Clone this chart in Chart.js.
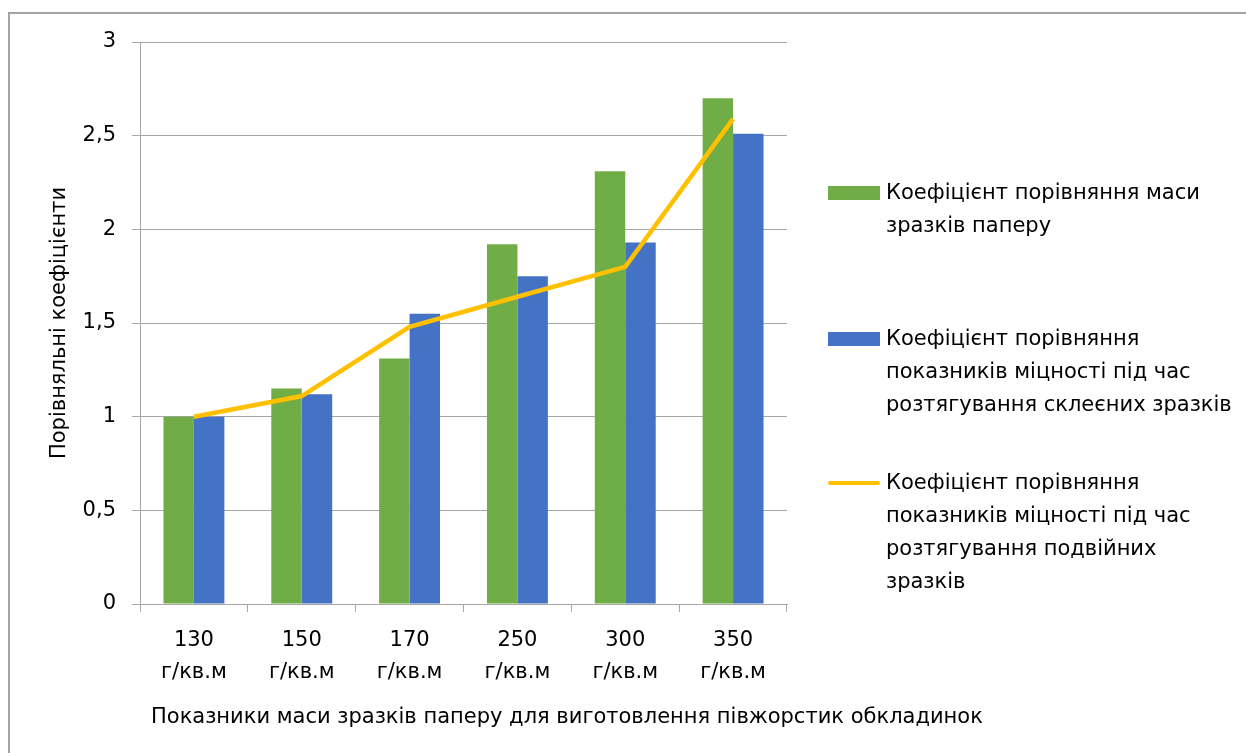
<!DOCTYPE html>
<html lang="uk">
<head>
<meta charset="utf-8">
<title>Порівняльні коефіцієнти</title>
<script src="https://cdn.jsdelivr.net/npm/chart.js@4/dist/chart.umd.min.js"></script>
<style>
  html, body { margin: 0; padding: 0; background: #fff; overflow: hidden; }
  #wrap { position: relative; width: 1246px; height: 753px; overflow: hidden;
          font-family: "DejaVu Sans", "Noto Sans", sans-serif; color: #000; }
  #frame { position: absolute; left: 8px; top: 12px; width: 1238px; height: 741px;
           border-top: 2px solid #a3a3a3; border-left: 2px solid #a3a3a3; box-sizing: border-box; }
  canvas { position: absolute; left: 0; top: 0; }
  .leg-item { position: absolute; left: 828px; }
  .leg-swatch { position: absolute; left: 0; width: 52px; }
  .leg-text { position: absolute; left: 58px; white-space: nowrap; font-size: 21px; line-height: 33px; }
  #xtitle { position: absolute; left: 151px; top: 702px; font-size: 21px; line-height: 28px; white-space: nowrap; }
</style>
</head>
<body>
<div id="wrap">
  <div id="frame"></div>
  <canvas id="chart" width="1246" height="753"></canvas>
  <div id="legend"></div>
  <div id="xtitle"></div>
</div>
<script>
// Paper mass categories (g per sq. m)
const massValues = ['130', '150', '170', '250', '300', '350'];
const massUnit = 'г/кв.м';

// Mass comparison coefficient of the paper samples
const massRatio = [1.0, 1.15, 1.31, 1.92, 2.31, 2.70];
// Tensile strength comparison coefficient, glued samples
const gluedRatio = [1.0, 1.12, 1.55, 1.75, 1.93, 2.51];
// Tensile strength comparison coefficient, double samples
const doubleRatio = [1.0, 1.11, 1.48, 1.64, 1.80, 2.59];

// Legend captions, already broken into lines
const massLabel = ['Коефіцієнт порівняння маси', 'зразків паперу'];
const gluedLabel = ['Коефіцієнт порівняння', 'показників міцності під час', 'розтягування склеєних зразків'];
const doubleLabel = ['Коефіцієнт порівняння', 'показників міцності під час', 'розтягування подвійних', 'зразків'];

const yTitle = 'Порівняльні коефіцієнти';
const xTitle = 'Показники маси зразків паперу для виготовлення півжорстик обкладинок';

const categories = massValues.map(v => [v, massUnit]);

const GREEN = '#70AD47', BLUE = '#4472C4', GOLD = '#FFC000', GRID = '#a6a6a6';
const FONT = '"DejaVu Sans", "Noto Sans", sans-serif';

const chart = new Chart(document.getElementById('chart'), {
  type: 'bar',
  data: {
    labels: categories,
    datasets: [
      { type: 'line', label: doubleLabel.join(' '), lines: doubleLabel, data: doubleRatio,
        borderColor: GOLD, backgroundColor: GOLD, borderWidth: 4.5, pointRadius: 0,
        tension: 0, order: 0, legendOrder: 2 },
      { label: massLabel.join(' '), lines: massLabel, data: massRatio,
        backgroundColor: GREEN, borderWidth: 0, order: 1, legendOrder: 0 },
      { label: gluedLabel.join(' '), lines: gluedLabel, data: gluedRatio,
        backgroundColor: BLUE, borderWidth: 0, order: 1, legendOrder: 1 }
    ]
  },
  options: {
    responsive: false,
    animation: false,
    datasets: { bar: { barPercentage: 1.0, categoryPercentage: 0.565 } },
    layout: { padding: { left: 0, top: 42, right: 459, bottom: 0 } },
    plugins: { legend: { display: false }, tooltip: { enabled: false } },
    scales: {
      x: {
        afterFit: s => { s.height = 149; },
        grid: { drawOnChartArea: false, drawTicks: true, tickLength: 8, color: GRID, lineWidth: 1 },
        border: { color: GRID, width: 1 },
        ticks: { color: '#000', padding: 12, maxRotation: 0, autoSkip: false,
                 font: { family: FONT, size: 21, lineHeight: 1.55 } }
      },
      y: {
        min: 0, max: 3,
        afterFit: s => { s.width = 140; },
        grid: { color: GRID, lineWidth: 1, tickLength: 8 },
        border: { color: GRID, width: 1 },
        ticks: { stepSize: 0.5, color: '#000', padding: 16,
                 font: { family: FONT, size: 21 },
                 callback: v => String(v).replace('.', ',') },
        title: { display: true, text: yTitle, color: '#000',
                 font: { family: FONT, size: 21 }, padding: { top: 47, bottom: 0 } }
      }
    }
  }
});

// HTML legend built from the chart's datasets
const legendTops = [176, 322, 466];
const legend = document.getElementById('legend');
chart.data.datasets.slice().sort((a, b) => a.legendOrder - b.legendOrder).forEach((ds, i) => {
  const item = document.createElement('div');
  item.className = 'leg-item';
  item.style.top = legendTops[i] + 'px';
  const sw = document.createElement('div');
  sw.className = 'leg-swatch';
  if (ds.type === 'line') {
    sw.style.top = '14.5px'; sw.style.height = '4px'; sw.style.background = ds.borderColor;
    sw.style.borderRadius = '2px';
  } else {
    sw.style.top = '10px'; sw.style.height = '14px'; sw.style.background = ds.backgroundColor;
  }
  const tx = document.createElement('div');
  tx.className = 'leg-text';
  tx.innerHTML = ds.lines.map(l => l.replace(/&/g, '&amp;').replace(/</g, '&lt;')).join('<br>');
  item.appendChild(sw);
  item.appendChild(tx);
  legend.appendChild(item);
});
document.getElementById('xtitle').textContent = xTitle;
</script>
</body>
</html>
